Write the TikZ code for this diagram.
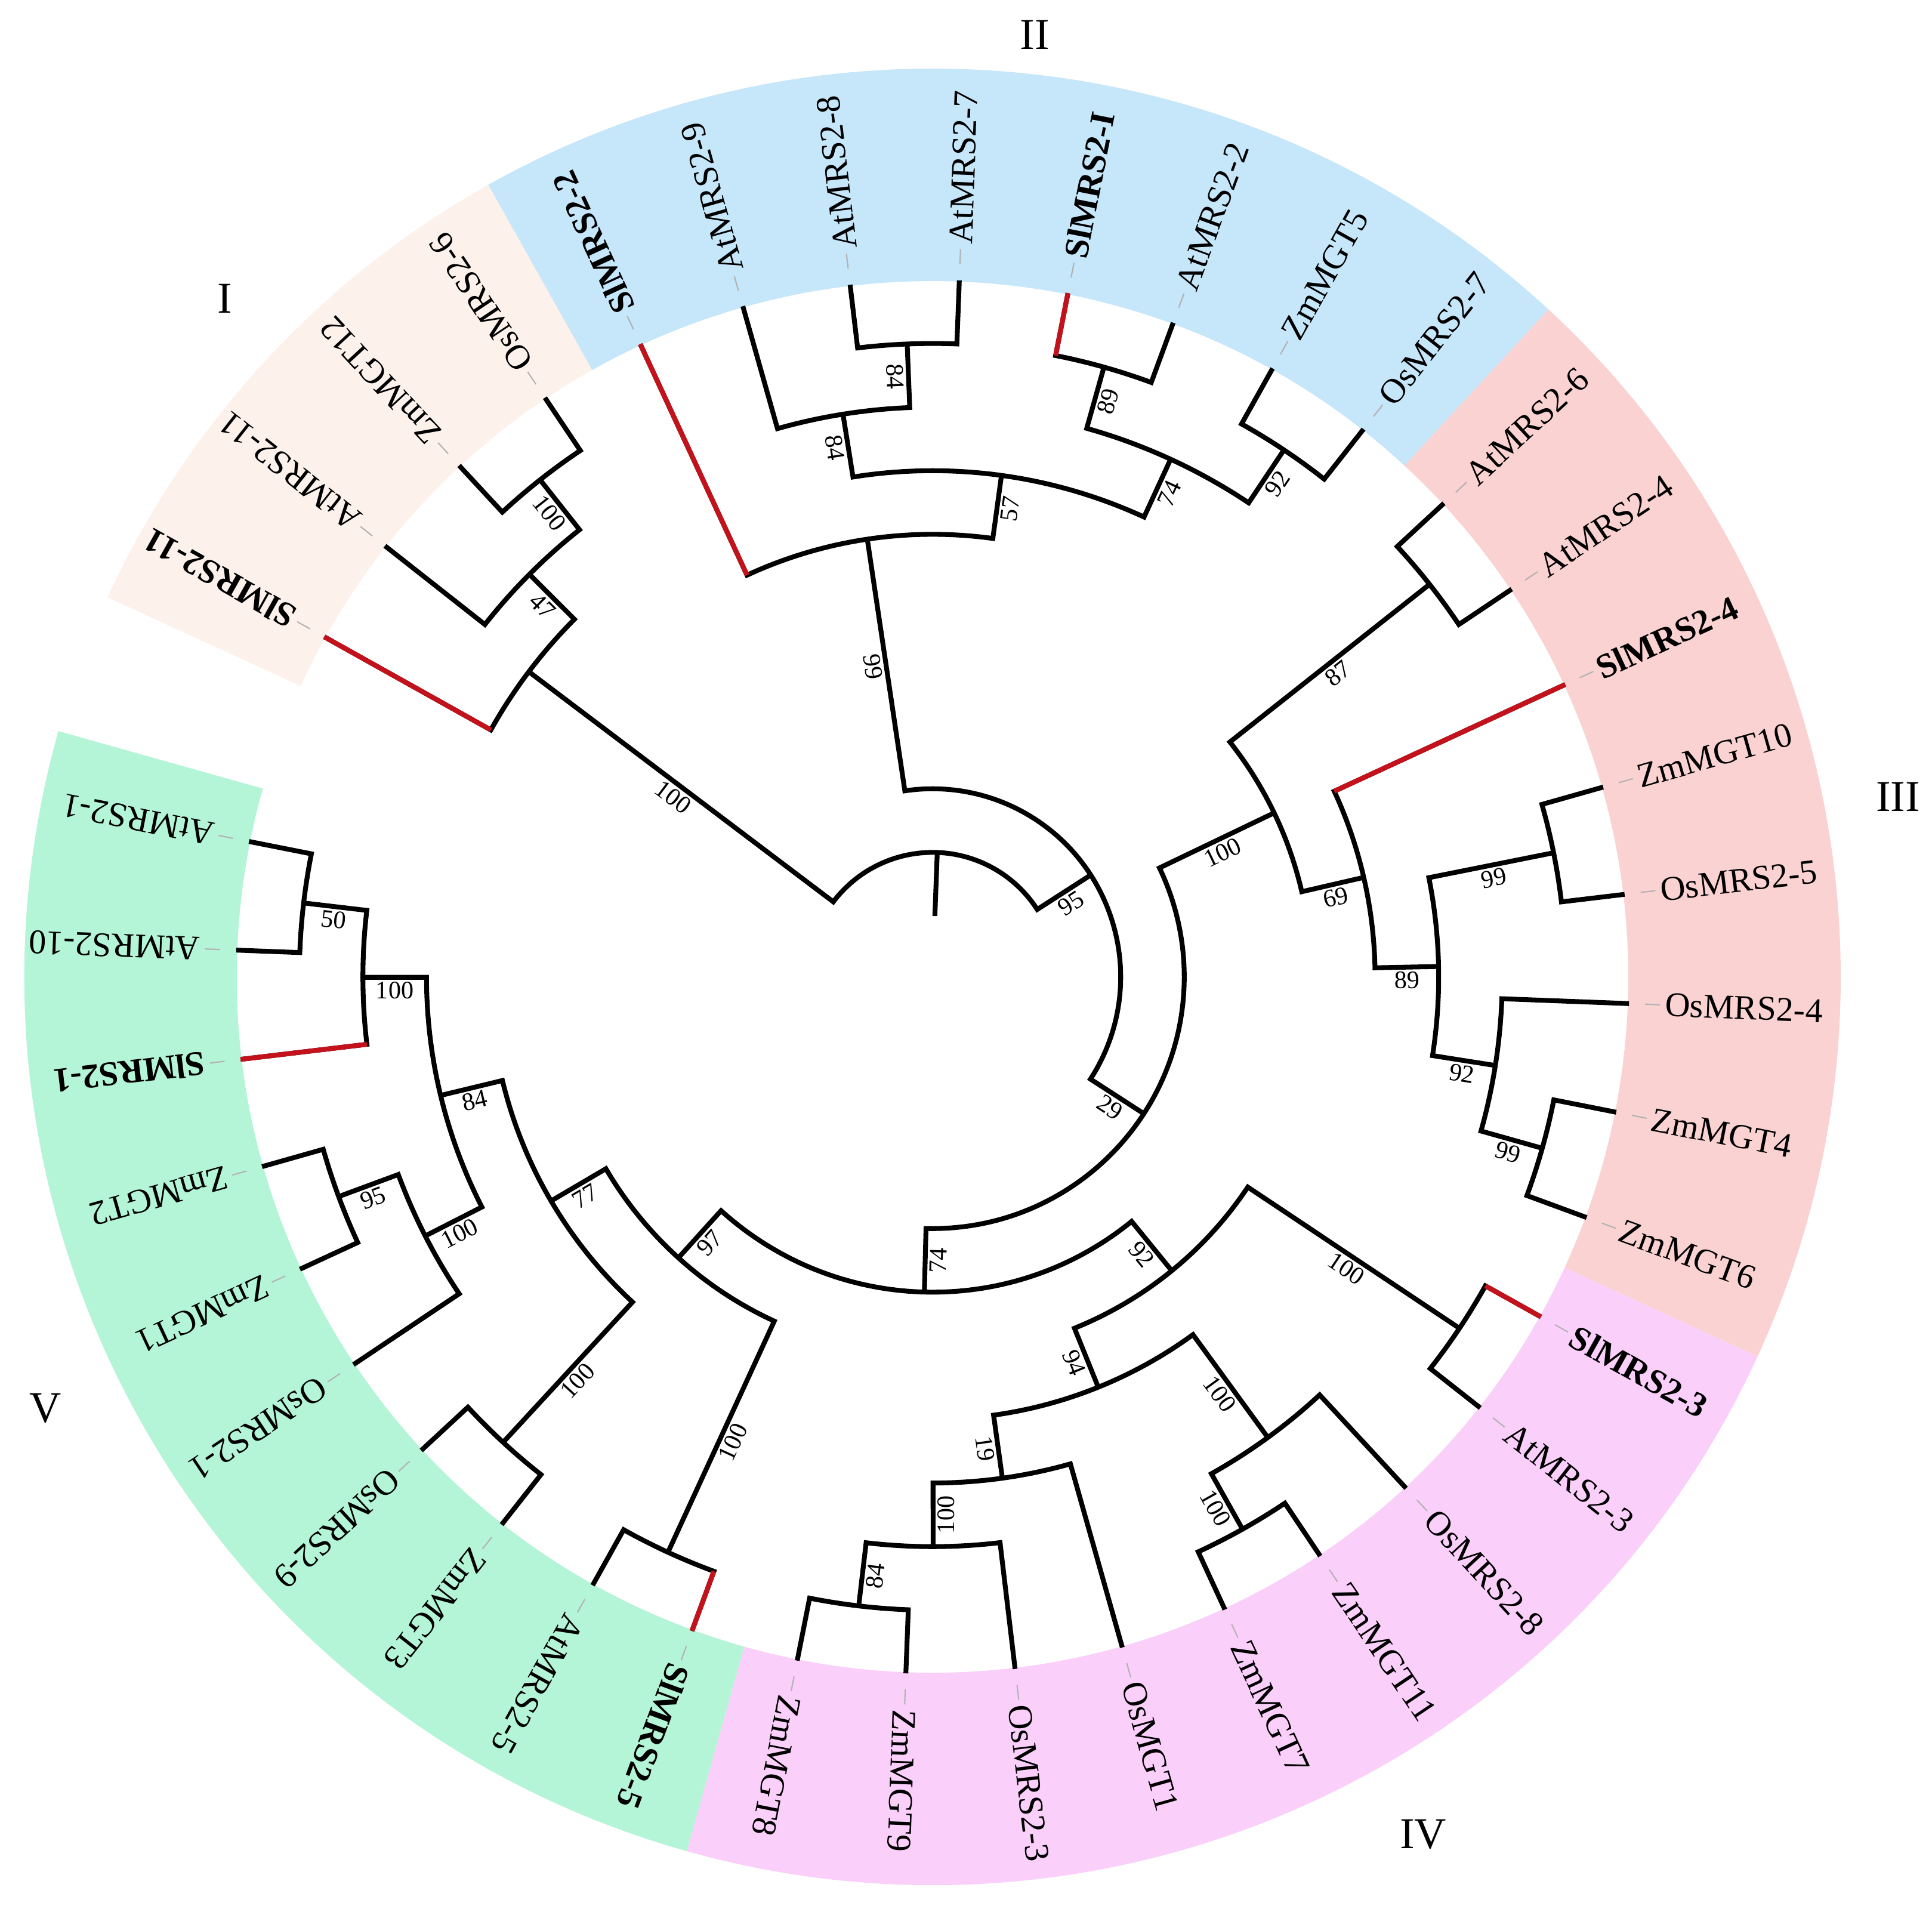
\documentclass[tikz,border=0pt]{standalone}
\usepackage{fontspec}
\setmainfont{Liberation Serif}
\usetikzlibrary{calc}
\definecolor{peachI}{RGB}{253,241,235}
\definecolor{blueII}{RGB}{198,230,249}
\definecolor{redIII}{RGB}{250,210,210}
\definecolor{pinkIV}{RGB}{250,208,250}
\definecolor{greenV}{RGB}{180,245,216}
\definecolor{treered}{RGB}{196,18,28}
\tikzset{
  br/.style={line width=2.3pt, draw=black},
  redbr/.style={line width=2.3pt, draw=treered},
  leafl/.style={inner sep=0pt, anchor=west, font=\fontsize{16.5}{18}\selectfont},
  slleaf/.style={leafl, font=\fontsize{16.5}{18}\selectfont\bfseries},
  bsl/.style={inner sep=0pt, font=\fontsize{12}{14}\selectfont},
  cladel/.style={inner sep=0pt, font=\fontsize{21}{24}\selectfont},
  leader/.style={line width=0.6pt, draw=black!30}
}
% binary tree node: angle1, radius1, angle2, radius2, node radius
\newcommand\tnode[5]{\draw[br] (#1:#2) -- (#1:#5) arc[start angle=#1, end angle=#3, radius=#5] -- (#3:#4);}
\newcommand\redleaf[2]{\draw[redbr] (#1:#2) -- (#1:11.68);}
\newcommand\sector[3]{\fill[#1] (#2:11.66) arc[start angle=#2, end angle=#3, radius=11.66] -- (#3:15.22) arc[start angle=#3, end angle=#2, radius=15.22] -- cycle;}
\newcommand\leaf[3]{\draw[leader] (#2:11.95) -- (#2:12.2); \node[leafl, rotate=#2] (#1) at (#2:12.28) {#3};}
\newcommand\leafb[3]{\draw[leader] (#2:11.95) -- (#2:12.2); \node[slleaf, rotate=#2] (#1) at (#2:12.28) {#3};}
% bootstrap label: name, angle, inner radius, outer radius, text
\newcommand\bs[5]{%
  \pgfmathsetmacro\bsr{(#3+#4)/2}%
  \pgfmathtruncatemacro\bsside{cos(#2)>0.01}%
  \ifnum\bsside=1
    \node[bsl, rotate=#2] (#1) at ($(#2:\bsr)+(#2-90:0.22)$) {#5};
  \else
    \node[bsl, rotate=#2+180] (#1) at ($(#2:\bsr)+(#2+90:0.22)$) {#5};
  \fi}
\begin{document}
\begin{tikzpicture}[x=1cm,y=1cm]
\useasboundingbox (0,0) rectangle (32.38,31.99);
\begin{scope}[shift={(15.63,15.62)}]
% coloured ring
\sector{greenV}{164.3}{254.3}
\sector{pinkIV}{254.3}{335.3}
\sector{redIII}{335.3}{407.3}
\sector{blueII}{407.3}{479.3}
\sector{peachI}{479.3}{515.3}

% ---------- tree ----------
% clade V
\tnode{168.8}{11.68}{177.8}{11.68}{10.614}
\tnode{173.3}{10.614}{186.8}{11.68}{9.548}
\tnode{195.8}{11.68}{204.8}{11.68}{10.614}
\tnode{200.3}{10.614}{213.8}{11.68}{9.548}
\tnode{180.05}{9.548}{207.05}{9.548}{8.482}
\tnode{222.8}{11.68}{231.8}{11.68}{10.614}
\tnode{193.55}{8.482}{227.3}{10.614}{7.416}
\tnode{240.8}{11.68}{249.8}{11.68}{10.614}
\tnode{210.425}{7.416}{245.3}{10.614}{6.35}
% clade IV
\tnode{258.8}{11.68}{267.8}{11.68}{10.614}
\tnode{263.3}{10.614}{276.8}{11.68}{9.548}
\tnode{270.05}{9.548}{285.8}{11.68}{8.482}
\tnode{294.8}{11.68}{303.8}{11.68}{10.614}
\tnode{299.3}{10.614}{312.8}{11.68}{9.548}
\tnode{277.925}{8.482}{306.05}{9.548}{7.416}
\tnode{321.8}{11.68}{330.8}{11.68}{10.614}
\tnode{291.9875}{7.416}{326.3}{10.614}{6.35}
\tnode{227.8625}{6.35}{309.14375}{6.35}{5.284}
% clade III
\tnode{339.8}{11.68}{348.8}{11.68}{10.614}
\tnode{344.3}{10.614}{357.8}{11.68}{9.548}
\tnode{366.8}{11.68}{375.8}{11.68}{10.614}
\tnode{351.05}{9.548}{371.3}{10.614}{8.482}
\tnode{361.175}{8.482}{384.8}{11.68}{7.416}
\tnode{393.8}{11.68}{402.8}{11.68}{10.614}
\tnode{372.9875}{7.416}{398.3}{10.614}{6.35}
\tnode{268.503125}{5.284}{385.64375}{6.35}{4.218}
% clade II
\tnode{411.8}{11.68}{420.8}{11.68}{10.614}
\tnode{429.8}{11.68}{438.8}{11.68}{10.614}
\tnode{416.3}{10.614}{434.3}{10.614}{9.548}
\tnode{447.8}{11.68}{456.8}{11.68}{10.614}
\tnode{452.3}{10.614}{465.8}{11.68}{9.548}
\tnode{425.3}{9.548}{459.05}{9.548}{8.482}
\tnode{442.175}{8.482}{474.8}{11.68}{7.416}
\tnode{327.0734}{4.218}{458.4875}{7.416}{3.152}
% clade I
\tnode{483.8}{11.68}{492.8}{11.68}{10.614}
\tnode{488.3}{10.614}{501.8}{11.68}{9.548}
\tnode{495.05}{9.548}{510.8}{11.68}{8.482}
% root
\tnode{392.78}{3.152}{502.925}{8.482}{2.086}
\draw[br] (447.85:1.02) -- (447.85:2.086);
% red SlMRS2 branches
\redleaf{186.8}{9.548}
\redleaf{249.8}{10.614}
\redleaf{330.8}{10.614}
\redleaf{384.8}{7.416}
\redleaf{438.8}{10.614}
\redleaf{474.8}{7.416}
\redleaf{510.8}{8.482}

% ---------- leaf labels ----------
\leaf{l0}{168.8}{AtMRS2-1}
\leaf{l1}{177.8}{AtMRS2-10}
\leafb{l2}{186.8}{SlMRS2-1}
\leaf{l3}{195.8}{ZmMGT2}
\leaf{l4}{204.8}{ZmMGT1}
\leaf{l5}{213.8}{OsMRS2-1}
\leaf{l6}{222.8}{OsMRS2-9}
\leaf{l7}{231.8}{ZmMGT3}
\leaf{l8}{240.8}{AtMRS2-5}
\leafb{l9}{249.8}{SlMRS2-5}
\leaf{l10}{258.8}{ZmMGT8}
\leaf{l11}{267.8}{ZmMGT9}
\leaf{l12}{276.8}{OsMRS2-3}
\leaf{l13}{285.8}{OsMGT1}
\leaf{l14}{294.8}{ZmMGT7}
\leaf{l15}{303.8}{ZmMGT11}
\leaf{l16}{312.8}{OsMRS2-8}
\leaf{l17}{321.8}{AtMRS2-3}
\leafb{l18}{330.8}{SlMRS2-3}
\leaf{l19}{339.8}{ZmMGT6}
\leaf{l20}{348.8}{ZmMGT4}
\leaf{l21}{357.8}{OsMRS2-4}
\leaf{l22}{366.8}{OsMRS2-5}
\leaf{l23}{375.8}{ZmMGT10}
\leafb{l24}{384.8}{SlMRS2-4}
\leaf{l25}{393.8}{AtMRS2-4}
\leaf{l26}{402.8}{AtMRS2-6}
\leaf{l27}{411.8}{OsMRS2-7}
\leaf{l28}{420.8}{ZmMGT5}
\leaf{l29}{429.8}{AtMRS2-2}
\leafb{l30}{438.8}{SlMRS2-I}
\leaf{l31}{447.8}{AtMRS2-7}
\leaf{l32}{456.8}{AtMRS2-8}
\leaf{l33}{465.8}{AtMRS2-9}
\leafb{l34}{474.8}{SlMRS2-2}
\leaf{l35}{483.8}{OsMRS2-6}
\leaf{l36}{492.8}{ZmMGT12}
\leaf{l37}{501.8}{AtMRS2-11}
\leafb{l38}{510.8}{SlMRS2-11}

% ---------- bootstrap values ----------
\bs{b1}{488.3}{9.548}{10.614}{100}
\bs{b2}{495.05}{8.482}{9.548}{47}
\bs{b3}{502.925}{2.086}{8.482}{100}
\bs{b4}{458.4875}{3.152}{7.416}{99}
\bs{b5}{459.05}{8.482}{9.548}{84}
\bs{b6}{452.3}{9.548}{10.614}{84}
\bs{b7}{442.175}{7.416}{8.482}{57}
\bs{b8}{434.3}{9.548}{10.614}{89}
\bs{b9}{425.3}{8.482}{9.548}{74}
\bs{b10}{416.3}{9.548}{10.614}{92}
\bs{b11}{392.78}{2.086}{3.152}{95}
\bs{b12}{327.0734}{3.152}{4.218}{29}
\bs{b13}{268.503}{4.218}{5.284}{74}
\bs{b14}{385.644}{4.218}{6.35}{100}
\bs{b15}{398.3}{6.35}{10.614}{87}
\bs{b16}{372.99}{6.35}{7.416}{69}
\bs{b17}{361.175}{7.416}{8.482}{89}
\bs{b18}{371.3}{8.482}{10.614}{99}
\bs{b19}{351.05}{8.482}{9.548}{92}
\bs{b20}{344.3}{9.548}{10.614}{99}
\bs{b21}{326.3}{6.35}{10.614}{100}
\bs{b22}{309.144}{5.284}{6.35}{92}
\bs{b23}{291.99}{6.35}{7.416}{94}
\bs{b24}{306.05}{7.416}{9.548}{100}
\bs{b25}{299.3}{9.548}{10.614}{100}
\bs{b26}{277.925}{7.416}{8.482}{19}
\bs{b27}{270.05}{8.482}{9.548}{100}
\bs{b28}{263.3}{9.548}{10.614}{84}
\bs{b29}{227.86}{5.284}{6.35}{97}
\bs{b30}{210.425}{6.35}{7.416}{77}
\bs{b31}{245.3}{6.35}{10.614}{100}
\bs{b32}{227.3}{7.416}{10.614}{100}
\bs{b33}{193.55}{7.416}{8.482}{84}
\bs{b34}{207.05}{8.482}{9.548}{100}
\bs{b35}{200.3}{9.548}{10.614}{95}
\bs{b36}{180.05}{8.482}{9.548}{100}
\bs{b37}{173.3}{9.548}{10.614}{50}
\end{scope}

% ---------- clade labels ----------
\node[cladel] (cI) at (3.77,26.99) {I};
\node[cladel] (cII) at (17.34,31.41) {II};
\node[cladel] (cIII) at (31.81,18.64) {III};
\node[cladel] (cIV) at (23.85,1.25) {IV};
\node[cladel] (cV) at (0.76,8.39) {V};
\end{tikzpicture}
\end{document}
